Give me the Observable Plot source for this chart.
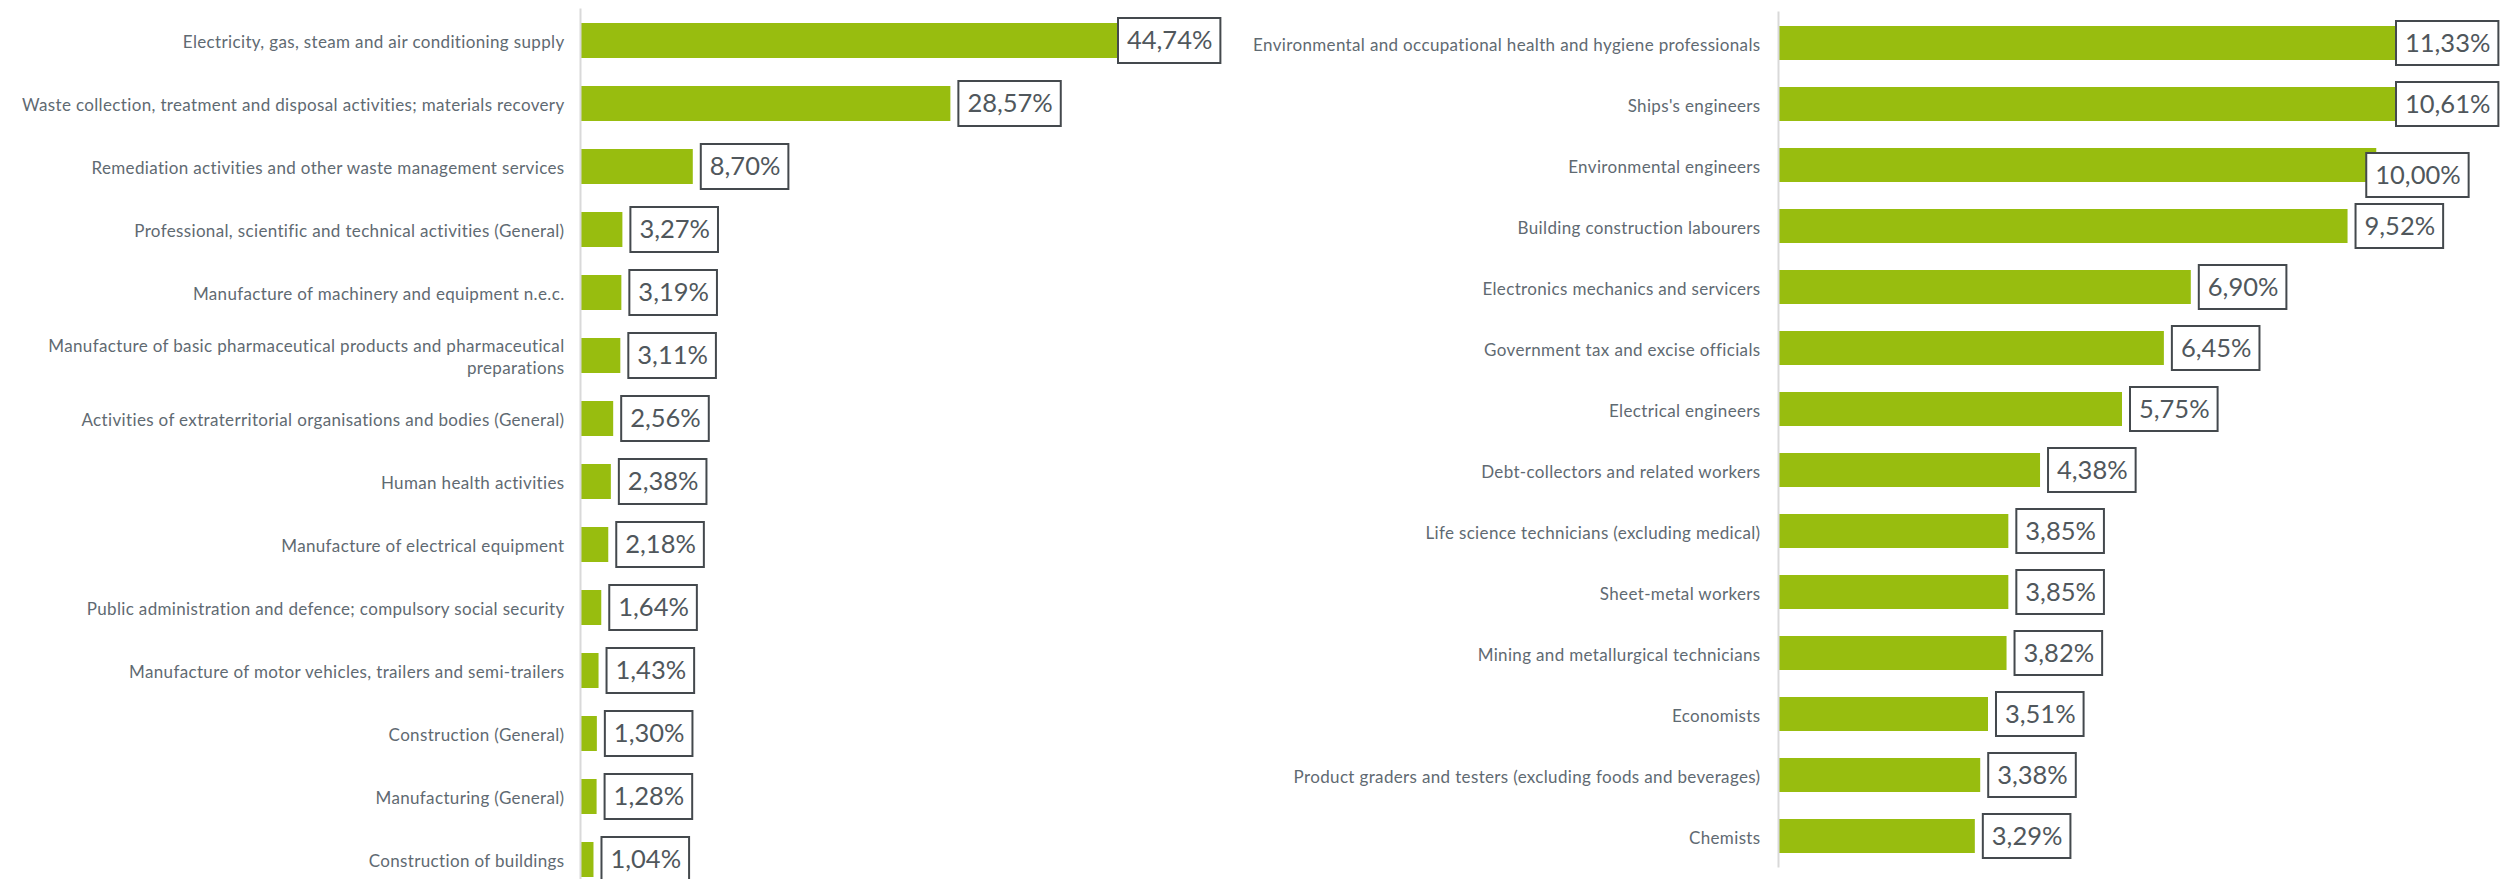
<!DOCTYPE html>
<html><head><meta charset="utf-8">
<script src="https://cdn.jsdelivr.net/npm/d3@7"></script>
<script src="https://cdn.jsdelivr.net/npm/@observablehq/plot@0.6"></script>
<style>
html,body{margin:0;padding:0;background:#fff;overflow:hidden;width:2511px;height:879px}
#wrap{display:flex;align-items:flex-start}
#wrap svg{display:block;overflow:visible}
#wrap g[aria-label="y-axis tick label"] text{letter-spacing:0.35px}
</style></head><body><div id="wrap"></div>
<script>
const sectors = [
  "Electricity, gas, steam and air conditioning supply",
  "Waste collection, treatment and disposal activities; materials recovery",
  "Remediation activities and other waste management services",
  "Professional, scientific and technical activities (General)",
  "Manufacture of machinery and equipment n.e.c.",
  "Manufacture of basic pharmaceutical products and pharmaceutical\npreparations",
  "Activities of extraterritorial organisations and bodies (General)",
  "Human health activities",
  "Manufacture of electrical equipment",
  "Public administration and defence; compulsory social security",
  "Manufacture of motor vehicles, trailers and semi-trailers",
  "Construction (General)",
  "Manufacturing (General)",
  "Construction of buildings"
];
const sectorShares = [44.74, 28.57, 8.70, 3.27, 3.19, 3.11, 2.56, 2.38, 2.18, 1.64, 1.43, 1.30, 1.28, 1.04];

const occupations = [
  "Environmental and occupational health and hygiene professionals",
  "Ships's engineers",
  "Environmental engineers",
  "Building construction labourers",
  "Electronics mechanics and servicers",
  "Government tax and excise officials",
  "Electrical engineers",
  "Debt-collectors and related workers",
  "Life science technicians (excluding medical)",
  "Sheet-metal workers",
  "Mining and metallurgical technicians",
  "Economists",
  "Product graders and testers (excluding foods and beverages)",
  "Chemists"
];
const occupationShares = [11.33, 10.61, 10.00, 9.52, 6.90, 6.45, 5.75, 4.38, 3.85, 3.85, 3.82, 3.51, 3.38, 3.29];

// axis maxima of the two panels (bars beyond are cut at the edge)
const sectorAxisMax = 41.5;
const occupationAxisMax = 10.33;

// one label that the original chart shifted off its bar end
const labelNudges = {"Environmental engineers": {dx: -18, dy: 10}};

const GREEN = "#98bd0f";
const TICK_COLOR = "#5f6a72";
const VALUE_COLOR = "#50575c";
const BOX_STROKE = "#44494d";
const FONT = "Lato, 'Open Sans', sans-serif";
const VALUE_FONT_SIZE = 25.5;
const TICK_FONT_SIZE = 17;

const fmt = v => v.toFixed(2).replace(".", ",") + "%";

const canvas = document.createElement("canvas");
const ctx = canvas.getContext("2d");
ctx.font = `${VALUE_FONT_SIZE}px Lato`;
const textW = s => ctx.measureText(s).width;

function panel({cats, vals, max, width, height, marginLeft, marginRight, marginTop, marginBottom, tickPadding}) {
  const data = cats.map((c, i) => ({cat: c, v: vals[i], label: fmt(vals[i])}));
  const labelMarks = data.flatMap(d => {
    const clipped = d.v > max;
    const nudge = labelNudges[d.cat] || {dx: 0, dy: 0};
    const gap = (clipped ? 0 : 8) + nudge.dx;
    const w = textW(d.label) + 17;
    return [
      Plot.barX([d], {
        x1: "v", x2: "v", y: "cat",
        insetLeft: gap, insetRight: -(gap + w),
        insetTop: -5, insetBottom: -5,
        dy: nudge.dy,
        fill: "white", stroke: BOX_STROKE, strokeWidth: 2
      }),
      Plot.text([d], {
        x: "v", y: "cat", text: "label",
        textAnchor: "start", dx: gap + 8.5, dy: nudge.dy,
        fontSize: VALUE_FONT_SIZE, fontFamily: FONT, fill: VALUE_COLOR
      })
    ];
  });
  return Plot.plot({
    width, height, marginLeft, marginRight, marginTop, marginBottom,
    style: {fontFamily: FONT, color: TICK_COLOR, background: "transparent", overflow: "visible"},
    x: {domain: [0, max], clamp: true, axis: null},
    y: {domain: cats, paddingInner: 0.445, paddingOuter: 0.2225, axis: null},
    marks: [
      Plot.axisY({tickSize: 0, tickPadding, fontSize: TICK_FONT_SIZE, lineHeight: 1.3, label: null, fill: TICK_COLOR}),
      Plot.barX(data, {x: "v", y: "cat", fill: GREEN}),
      Plot.ruleX([0], {stroke: "#d9d9d9", strokeWidth: 2}),
      ...labelMarks
    ]
  });
}

const wrap = document.getElementById("wrap");
wrap.append(panel({
  cats: sectors, vals: sectorShares, max: sectorAxisMax,
  width: 1250, height: 891, marginLeft: 580, marginRight: 132, marginTop: 8.5, marginBottom: 0,
  tickPadding: 16
}));
wrap.append(panel({
  cats: occupations, vals: occupationShares, max: occupationAxisMax,
  width: 1261, height: 879, marginLeft: 528, marginRight: 115, marginTop: 11.4, marginBottom: 11.5,
  tickPadding: 18
}));
</script></body></html>
